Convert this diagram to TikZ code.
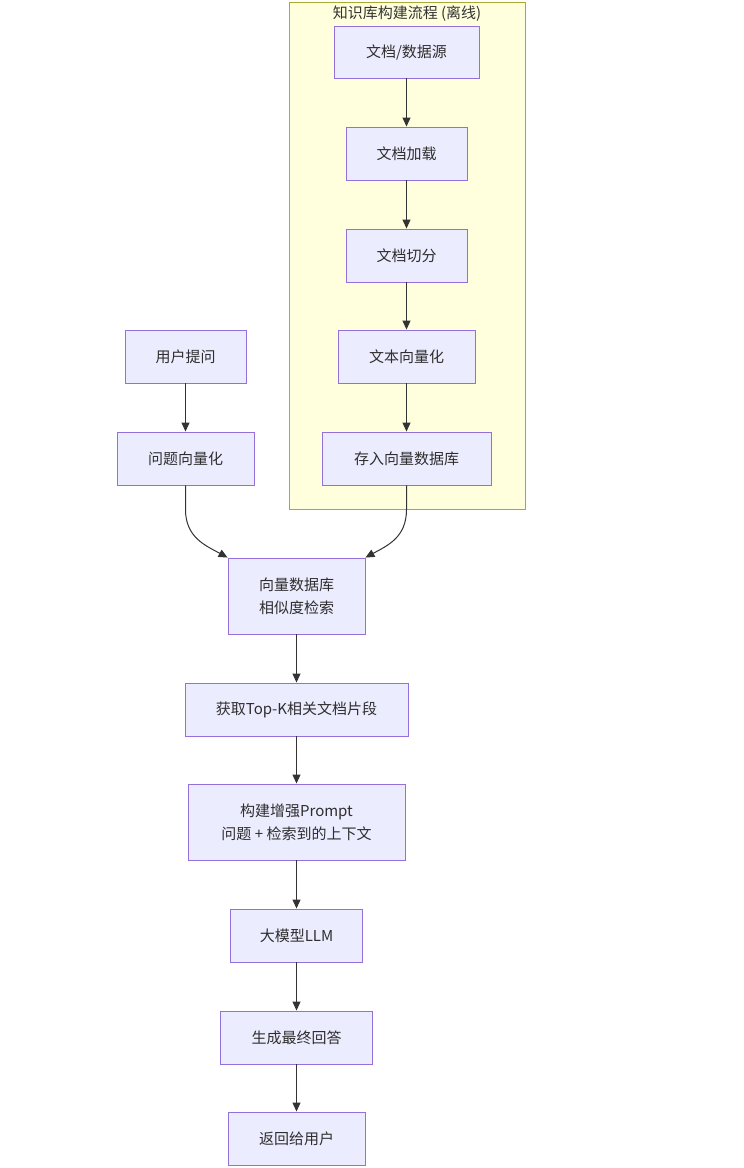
\documentclass[tikz,border=0pt]{standalone}
\usepackage{fontspec}
\setmainfont{Noto Sans CJK SC}
\usetikzlibrary{arrows.meta,calc}
\definecolor{nodefill}{HTML}{ECECFF}
\definecolor{nodeline}{HTML}{9370DB}
\definecolor{clfill}{HTML}{FFFFDE}
\definecolor{clline}{HTML}{AAAA33}
\definecolor{edge}{HTML}{333333}
\begin{document}
\begin{tikzpicture}[x=1pt,y=-1pt,
  box/.style={draw=nodeline,fill=nodefill,line width=0.9pt,inner sep=0pt,align=center,
    font=\fontsize{15}{23}\selectfont,text=edge!90!black},
  arr/.style={draw=edge,line width=1pt,-{Triangle[length=9pt,width=8pt]}}]
\useasboundingbox (0,0) rectangle (744,1168);
% cluster
\draw[fill=clfill,draw=clline,line width=0.9pt] (289,2) rectangle (525,509);
\node[font=\fontsize{15}{18}\selectfont,text=edge] (title) at (407,14) {知识库构建流程 (离线)};
% cluster nodes
\node[box,minimum width=145pt,minimum height=52pt] (src) at (406.5,52) {文档/数据源};
\node[box,minimum width=121pt,minimum height=53pt] (load) at (406.5,153.5) {文档加载};
\node[box,minimum width=121pt,minimum height=53pt] (split) at (406.5,255.5) {文档切分};
\node[box,minimum width=137pt,minimum height=53pt] (emb) at (406.5,356.5) {文本向量化};
\node[box,minimum width=169pt,minimum height=53pt] (store) at (406.5,458.5) {存入向量数据库};
% query side
\node[box,minimum width=121pt,minimum height=53pt] (ask) at (185.5,356.5) {用户提问};
\node[box,minimum width=137pt,minimum height=53pt] (qemb) at (185.5,458.5) {问题向量化};
% main chain
\node[box,minimum width=137pt,minimum height=76pt] (search) at (296.5,596) {向量数据库\\相似度检索};
\node[box,minimum width=223pt,minimum height=53pt] (topk) at (296.5,709.5) {获取Top-K相关文档片段};
\node[box,minimum width=217pt,minimum height=76pt] (prompt) at (296.5,822) {构建增强Prompt\\问题 + 检索到的上下文};
\node[box,minimum width=132pt,minimum height=53pt] (llm) at (296.5,935.5) {大模型LLM};
\node[box,minimum width=152pt,minimum height=53pt] (gen) at (296.5,1037.5) {生成最终回答};
\node[box,minimum width=137pt,minimum height=53pt] (ret) at (296.5,1138.5) {返回给用户};
% edges
\draw[arr] (src) -- (load);
\draw[arr] (load) -- (split);
\draw[arr] (split) -- (emb);
\draw[arr] (emb) -- (store);
\draw[arr] (ask) -- (qemb);
\draw[arr] (qemb.south) -- ++(0,24) .. controls +(0,28) and +(-22,-12) .. (search.north west);
\draw[arr] (store.south) -- ++(0,24) .. controls +(0,28) and +(22,-12) .. (search.north east);
\draw[arr] (search) -- (topk);
\draw[arr] (topk) -- (prompt);
\draw[arr] (prompt) -- (llm);
\draw[arr] (llm) -- (gen);
\draw[arr] (gen) -- (ret);
\end{tikzpicture}
\end{document}
